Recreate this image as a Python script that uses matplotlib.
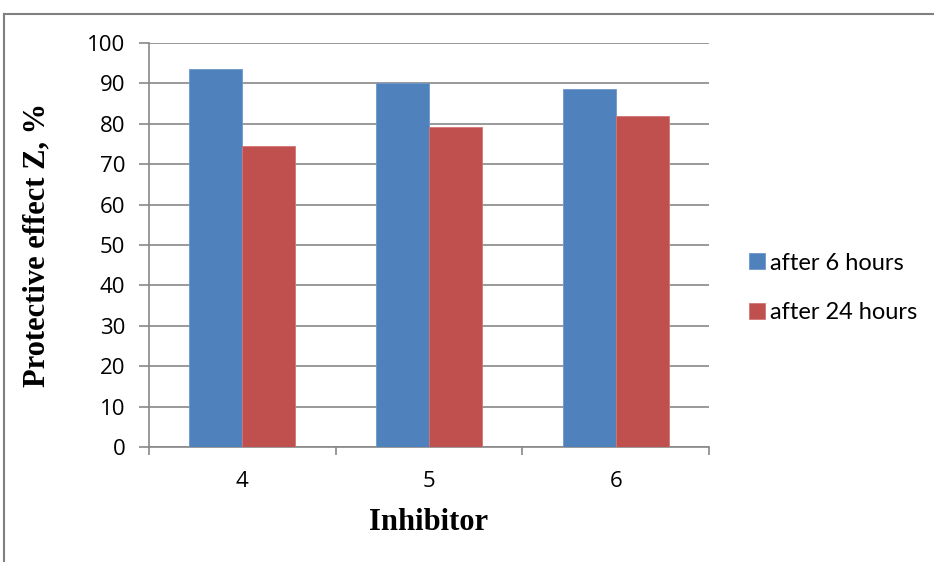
import numpy as np
import matplotlib.pyplot as plt
from matplotlib.lines import Line2D

# ==========================================================
# DATA
# ==========================================================

inhibitors = ["4", "5", "6"]
after_6h = [93.6, 90.1, 88.7]
after_24h = [74.4, 79.2, 81.9]
series_labels = ["after 6 hours", "after 24 hours"]
y_ticks = [0, 10, 20, 30, 40, 50, 60, 70, 80, 90, 100]

BLUE = "#4F81BD"
RED = "#C0504D"
GRID = "#888888"
TICK_FONT = ["Open Sans", "DejaVu Sans"]

# ==========================================================
# FIGURE
# ==========================================================

fig = plt.figure(figsize=(9.34, 5.62), dpi=100)
ax = fig.add_axes([149 / 934, 115 / 562, 560 / 934, 404 / 562])

x = np.arange(len(inhibitors))
width = 0.284

ax.bar(x - width / 2, after_6h, width, color=BLUE, edgecolor="#6f97c9",
       linewidth=0.6, label=series_labels[0], zorder=3)
ax.bar(x + width / 2, after_24h, width, color=RED, edgecolor="#d17674",
       linewidth=0.6, label=series_labels[1], zorder=3)

ax.set_xlim(-0.5, len(inhibitors) - 0.5)
ax.set_ylim(0, 100)

ax.set_yticks(y_ticks)
ax.set_yticklabels([str(t) for t in y_ticks], family=TICK_FONT, fontsize=16)
ax.yaxis.grid(True, color=GRID, linewidth=1.2, zorder=0)
ax.set_axisbelow(True)

ax.set_xticks(x)
ax.set_xticklabels(inhibitors, family=TICK_FONT, fontsize=16)
ax.tick_params(axis="x", length=0, pad=17)
ax.set_xticks(np.arange(-0.5, len(inhibitors)), minor=True)
ax.tick_params(axis="x", which="minor", length=6, color=GRID, width=1.2)
ax.tick_params(axis="y", length=7, color=GRID, width=1.2, pad=10)

for side in ["top", "right"]:
    ax.spines[side].set_visible(False)
for side in ["left", "bottom"]:
    ax.spines[side].set_color(GRID)
    ax.spines[side].set_linewidth(1.2)

ax.set_ylabel("Protective effect Z, %", family="Liberation Serif",
              fontweight="bold", fontsize=22, labelpad=26)
ax.set_xlabel("Inhibitor", family="Liberation Serif", fontweight="bold",
              fontsize=22, labelpad=12)

leg = ax.legend(loc="center left", bbox_to_anchor=(1.0714, 0.394), frameon=False,
                prop={"family": "Lato", "size": 17}, handlelength=0.68,
                handleheight=0.68, handletextpad=0.2, labelspacing=1.2,
                borderaxespad=0, borderpad=0)

# outer chart border (top and left visible)
fig.add_artist(Line2D([4 / 934, 4 / 934], [0, 1 - 14 / 562],
                      transform=fig.transFigure, color="#808080", linewidth=1.5))
fig.add_artist(Line2D([4 / 934, 1], [1 - 14 / 562, 1 - 14 / 562],
                      transform=fig.transFigure, color="#808080", linewidth=1.5))

plt.savefig("out.png", dpi=100)
plt.close()
